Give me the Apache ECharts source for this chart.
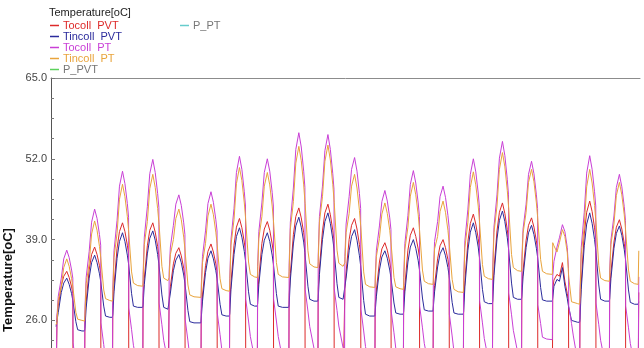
<!DOCTYPE html>
<html>
<head>
<meta charset="utf-8">
<script src="https://cdn.jsdelivr.net/npm/echarts@6/dist/echarts.min.js"></script>
<style>
  html, body { margin: 0; padding: 0; background: #fff; overflow: hidden; }
  #chart { width: 644px; height: 520px; }
</style>
</head>
<body>
<div id="chart"></div>
<script>
// sample times in hours from the start of the record, one row per day
var hours = [
  [4.2, 5, 6, 8.5, 10.5, 13, 15, 17, 18, 18.2, 20.5, 22, 25.5],
  [27.7, 28, 29, 31.5, 33.5, 36, 38, 40, 41, 41.2, 43.5, 45, 48.5],
  [50.7, 51, 52, 54.5, 56.5, 59, 61, 63, 64, 64.2, 66.5, 68, 71.5],
  [75.7, 76, 77, 79.5, 81.5, 84, 86, 88, 89, 89.2, 91.5, 93, 96.5],
  [97.2, 97.5, 98.5, 101, 103, 105.5, 107.5, 109.5, 110.5, 110.7, 113, 114.5, 118],
  [123.7, 124, 125, 127.5, 129.5, 132, 134, 136, 137, 137.2, 139.5, 141, 144.5],
  [147.2, 147.5, 148.5, 151, 153, 155.5, 157.5, 159.5, 160.5, 160.7, 163, 164.5, 168],
  [170.2, 170.5, 171.5, 174, 176, 178.5, 180.5, 182.5, 183.5, 183.7, 186, 187.5, 191],
  [196.2, 196.5, 197.5, 200, 202, 204.5, 206.5, 208.5, 209.5, 209.7, 212, 213.5, 217],
  [220.2, 220.5, 221.5, 224, 226, 228.5, 230.5, 232.5, 233.5, 233.7, 236, 237.5, 241],
  [242.2, 242.5, 243.5, 246, 248, 250.5, 252.5, 254.5, 255.5, 255.7, 258, 259.5, 263],
  [267.2, 267.5, 268.5, 271, 273, 275.5, 277.5, 279.5, 280.5, 280.7, 283, 284.5, 288],
  [290.7, 291, 292, 294.5, 296.5, 299, 301, 303, 304, 304.2, 306.5, 308, 311.5],
  [315.2, 315.5, 316.5, 319, 321, 323.5, 325.5, 327.5, 328.5, 328.7, 331, 332.5, 336],
  [340.2, 340.5, 341.5, 344, 346, 348.5, 350.5, 352.5, 353.5, 353.7, 356, 357.5, 361],
  [364.2, 364.5, 365.5, 368, 370, 372.5, 374.5, 376.5, 377.5, 377.7, 380, 381.5, 385],
  [388.2, 388.5, 389.5, 392, 394, 396.5, 398.5, 400.5, 401.5, 401.7, 404, 405.5, 409],
  [413.7, 414, 415, 417.5, 419.5, 422, 424, 426, 427, 427.2, 429.5, 431, 434.5],
  [436.2, 436.5, 437.5, 440, 442, 444.5, 446.5, 448.5, 449.5, 449.7, 452, 453.5, 457],
  [460.7, 461, 462, 464.5, 466.5, 469, 471, 473, 474, 474.2, 476.5, 478, 481.5],
  [484.5, 485]
];

var tocollPvt = [
  [15, 26.7, 28.3, 31.6, 33.1, 33.9, 32.9, 31.4, 30.3, 15, 15, 15, 15],
  [15, 26.2, 29.0, 34.1, 36.6, 37.8, 36.6, 34.8, 33.6, 15, 15, 15, 15],
  [15, 28.4, 31.6, 37.6, 40.3, 41.7, 40.3, 38.1, 36.7, 15, 15, 15, 15],
  [15, 30.0, 32.8, 38.0, 40.5, 41.7, 40.2, 37.9, 36.4, 15, 15, 15, 15],
  [15, 29.6, 31.4, 35.1, 36.8, 37.7, 36.4, 34.4, 33.1, 15, 15, 15, 15],
  [15, 27.4, 30.1, 34.8, 37.1, 38.3, 37.0, 35.1, 33.9, 15, 15, 15, 15],
  [15, 28.6, 32.0, 38.1, 41.0, 42.4, 40.9, 38.6, 37.1, 15, 15, 15, 15],
  [15, 30.2, 32.8, 38.4, 40.7, 41.9, 40.5, 38.3, 36.9, 15, 15, 15, 15],
  [15, 30.0, 33.5, 39.8, 42.7, 44.1, 42.5, 40.1, 38.4, 15, 15, 15, 15],
  [15, 31.0, 34.4, 40.4, 43.3, 44.7, 43.0, 40.5, 38.9, 15, 15, 15, 15],
  [15, 31.2, 33.8, 39.0, 41.3, 42.4, 40.7, 38.2, 36.6, 15, 15, 15, 15],
  [15, 28.5, 30.9, 35.4, 37.5, 38.5, 37.3, 35.4, 34.2, 15, 15, 15, 15],
  [15, 28.9, 31.6, 37.3, 39.7, 40.9, 39.5, 37.5, 36.1, 15, 15, 15, 15],
  [15, 29.3, 31.6, 35.9, 38.0, 39.0, 37.7, 35.8, 34.5, 15, 15, 15, 15],
  [15, 28.9, 32.4, 38.7, 41.6, 43.1, 41.5, 39.2, 37.6, 15, 15, 15, 15],
  [15, 30.6, 34.2, 40.4, 43.4, 44.9, 43.2, 40.6, 38.9, 15, 15, 15, 15],
  [15, 31.3, 34.0, 38.9, 41.3, 42.5, 41.0, 38.8, 37.4, 15, 15, 15, 15],
  [15, 31.1, 32.5, 33.4, 33.1, 35.3, 32.3, 30.3, 29.1, 15, 15, 15, 15],
  [15, 27.7, 32.0, 39.9, 43.4, 45.2, 43.5, 40.9, 39.2, 15, 15, 15, 15],
  [15, 31.0, 33.7, 38.6, 41.0, 42.2, 40.7, 38.4, 36.9, 15, 15, 15, 15],
  [15, 30.5]
];

var tincollPvt = [
  [25.0, 25.2, 27.3, 30.5, 32.0, 32.8, 31.8, 30.3, 29.2, 29.1, 25.8, 24.5, 24.3],
  [24.3, 24.7, 28.0, 32.8, 35.3, 36.5, 35.3, 33.5, 32.3, 32.1, 28.3, 26.7, 26.5],
  [26.5, 26.9, 30.6, 36.0, 38.7, 40.1, 38.7, 36.5, 35.1, 34.8, 30.3, 28.3, 28.1],
  [28.1, 28.5, 31.8, 36.7, 39.2, 40.4, 38.9, 36.6, 35.1, 34.9, 30.1, 28.1, 27.8],
  [27.8, 28.1, 30.4, 34.0, 35.7, 36.6, 35.3, 33.3, 32.0, 31.8, 27.6, 25.8, 25.6],
  [25.6, 25.9, 29.1, 33.7, 36.0, 37.2, 35.9, 34.0, 32.8, 32.6, 28.6, 26.9, 26.7],
  [26.7, 27.1, 31.0, 36.6, 39.5, 40.9, 39.4, 37.1, 35.6, 35.4, 30.6, 28.6, 28.3],
  [28.3, 28.7, 31.8, 36.6, 38.9, 40.1, 38.7, 36.5, 35.1, 34.8, 30.3, 28.3, 28.1],
  [28.1, 28.5, 32.5, 38.3, 41.2, 42.6, 41.0, 38.6, 36.9, 36.7, 31.5, 29.4, 29.1],
  [29.1, 29.5, 33.4, 39.0, 41.9, 43.3, 41.6, 39.1, 37.5, 37.2, 31.9, 29.7, 29.4],
  [29.4, 29.7, 32.8, 37.2, 39.5, 40.6, 38.9, 36.4, 34.8, 34.5, 29.2, 27.0, 26.7],
  [26.7, 27.0, 29.9, 34.1, 36.2, 37.2, 36.0, 34.1, 32.9, 32.7, 28.8, 27.2, 27.0],
  [27.0, 27.4, 30.6, 35.4, 37.8, 39.0, 37.6, 35.6, 34.2, 33.9, 29.6, 27.7, 27.5],
  [27.5, 27.8, 30.6, 34.6, 36.7, 37.7, 36.4, 34.5, 33.2, 33.0, 28.9, 27.2, 27.0],
  [27.0, 27.4, 31.4, 37.3, 40.2, 41.7, 40.1, 37.8, 36.2, 36.0, 31.0, 29.0, 28.7],
  [28.7, 29.1, 33.2, 39.1, 42.1, 43.6, 41.9, 39.3, 37.6, 37.4, 32.0, 29.7, 29.4],
  [29.4, 29.8, 33.0, 37.7, 40.1, 41.3, 39.8, 37.6, 36.2, 35.9, 31.3, 29.3, 29.1],
  [29.1, 29.6, 31.5, 32.6, 32.3, 34.5, 31.5, 29.5, 28.3, 28.1, 26.0, 25.8, 25.7],
  [25.7, 26.2, 31.0, 38.0, 41.5, 43.3, 41.6, 39.0, 37.3, 37.1, 31.7, 29.4, 29.1],
  [29.1, 29.5, 32.7, 37.6, 40.0, 41.2, 39.7, 37.4, 35.9, 35.7, 30.9, 28.9, 28.6],
  [28.6, 29.0]
];

var tocollPt = [
  [16, 26.8, 29.9, 32.8, 35.9, 37.3, 36.1, 34.1, 32.8, 22.4, 18.9, 16.4, 12.9],
  [16, 27.7, 32.9, 37.1, 41.8, 43.9, 42.4, 39.8, 38.1, 25.6, 22.1, 19.6, 16.1],
  [16, 31.0, 37.2, 42.1, 47.6, 50.0, 48.0, 44.8, 42.6, 28.0, 24.5, 22.0, 18.5],
  [16, 33.4, 39.4, 44.3, 49.6, 51.9, 49.8, 46.4, 44.2, 28.8, 25.3, 22.8, 19.3],
  [16, 33.9, 37.8, 41.3, 44.7, 46.2, 44.5, 41.7, 39.8, 26.2, 22.7, 20.2, 16.7],
  [16, 31.5, 36.3, 40.4, 44.8, 46.7, 45.0, 42.2, 40.4, 27.2, 23.7, 21.2, 17.7],
  [16, 32.7, 39.0, 44.0, 49.8, 52.4, 50.3, 46.7, 44.4, 29.4, 25.9, 23.4, 19.9],
  [16, 34.7, 40.3, 44.9, 49.8, 52.0, 50.0, 46.6, 44.4, 29.4, 25.9, 23.4, 19.9],
  [16, 34.9, 41.8, 47.3, 53.5, 56.2, 53.9, 50.0, 47.4, 31.0, 27.5, 25.0, 21.5],
  [16, 36.5, 42.7, 47.6, 53.3, 55.9, 53.5, 49.6, 47.1, 31.1, 27.6, 25.1, 21.6],
  [16, 36.3, 41.5, 45.9, 50.3, 52.2, 50.0, 46.4, 44.0, 27.8, 24.3, 21.8, 18.3],
  [16, 33.0, 37.3, 41.2, 45.1, 46.9, 45.2, 42.5, 40.6, 27.5, 24.0, 21.5, 18.0],
  [16, 32.9, 38.4, 42.9, 47.9, 50.1, 48.1, 44.9, 42.7, 28.3, 24.8, 22.3, 18.8],
  [16, 33.5, 38.7, 41.9, 45.9, 47.6, 45.8, 42.9, 41.0, 27.0, 23.5, 21.0, 17.5],
  [16, 32.5, 38.8, 43.9, 49.5, 52.0, 49.9, 46.5, 44.2, 29.1, 25.6, 23.1, 19.6],
  [16, 34.6, 41.0, 46.2, 52.1, 54.8, 52.5, 48.7, 46.2, 30.4, 26.9, 24.4, 20.9],
  [16, 35.7, 40.7, 44.7, 49.5, 51.6, 49.6, 46.2, 44.0, 28.5, 25.5, 23.3, 23.0],
  [22.9, 33.1, 35.5, 37.8, 39.3, 41.4, 40.3, 37.7, 34.3, 28.3, 25.5, 23.5, 19.5],
  [16, 30.7, 37.7, 43.4, 49.7, 52.5, 50.3, 46.7, 44.4, 28.8, 25.3, 22.8, 19.3],
  [16, 34.1, 38.9, 42.8, 47.4, 49.5, 47.5, 44.3, 42.1, 28.3, 24.8, 22.3, 18.8],
  [17, 33]
];

var tincollPt = [
  [25.3, 25.8, 29.2, 31.4, 34.5, 35.9, 34.7, 32.7, 31.4, 31.2, 27.3, 26.2, 26.0],
  [25.9, 26.7, 31.9, 35.2, 39.9, 42.0, 40.5, 37.9, 36.2, 35.9, 30.9, 29.5, 29.2],
  [29.1, 30.0, 36.1, 40.0, 45.5, 47.9, 45.9, 42.7, 40.5, 40.2, 33.8, 32.0, 31.6],
  [31.5, 32.4, 38.2, 41.9, 47.2, 49.5, 47.4, 44.0, 41.8, 41.4, 34.7, 32.8, 32.4],
  [32.3, 32.9, 36.6, 39.0, 42.4, 43.9, 42.2, 39.4, 37.5, 37.2, 31.7, 30.1, 29.8],
  [29.7, 30.5, 35.3, 38.4, 42.8, 44.7, 43.0, 40.2, 38.4, 38.1, 32.7, 31.1, 30.8],
  [30.7, 31.7, 38.1, 42.2, 48.0, 50.6, 48.5, 44.9, 42.6, 42.3, 35.4, 33.4, 33.0],
  [32.9, 33.7, 39.2, 42.7, 47.6, 49.8, 47.8, 44.4, 42.2, 41.9, 35.3, 33.4, 33.0],
  [32.9, 33.9, 40.7, 45.1, 51.3, 54.0, 51.7, 47.8, 45.2, 44.8, 37.2, 35.1, 34.6],
  [34.5, 35.5, 41.8, 45.9, 51.6, 54.2, 51.8, 47.9, 45.4, 45.0, 37.3, 35.2, 34.7],
  [34.6, 35.3, 40.1, 43.2, 47.6, 49.5, 47.3, 43.7, 41.3, 40.9, 33.8, 31.8, 31.4],
  [31.3, 32.0, 36.3, 39.2, 43.1, 44.9, 43.2, 40.5, 38.6, 38.4, 32.9, 31.4, 31.1],
  [31.0, 31.9, 37.4, 41.0, 46.0, 48.2, 46.2, 43.0, 40.8, 40.5, 34.1, 32.3, 31.9],
  [31.8, 32.5, 37.5, 39.5, 43.5, 45.2, 43.4, 40.5, 38.6, 38.3, 32.6, 31.0, 30.6],
  [30.5, 31.5, 37.7, 41.8, 47.4, 49.9, 47.8, 44.4, 42.1, 41.8, 35.0, 33.1, 32.7],
  [32.6, 33.6, 40.1, 44.4, 50.3, 53.0, 50.7, 46.9, 44.4, 44.0, 36.6, 34.5, 34.0],
  [33.9, 34.7, 40.0, 43.4, 48.2, 50.3, 48.3, 44.9, 42.7, 42.4, 35.8, 33.9, 33.5],
  [33.4, 38.5, 38.0, 37.0, 38.5, 40.6, 39.5, 36.9, 33.5, 33.0, 29.0, 28.8, 28.7],
  [28.6, 29.7, 36.6, 41.2, 47.5, 50.3, 48.1, 44.5, 42.2, 41.8, 34.8, 32.8, 32.4],
  [32.3, 33.1, 38.2, 41.5, 46.1, 48.2, 46.2, 43.0, 40.8, 40.5, 34.1, 32.3, 31.9],
  [31.8, 37.2]
];

// power series: nothing of them shows inside this temperature window
var pPvt = [];
var pPt = [];

var seriesNames = ['Tocoll  PVT', 'Tincoll  PVT', 'Tocoll  PT', 'Tincoll  PT', 'P_PVT', 'P_PT'];
var seriesColors = ['#dd2a2a', '#2b2b9c', '#c93fd6', '#e9a43c', '#5cd25c', '#66cccc'];
var legendTextColors = ['#dd2a2a', '#2b2b9c', '#c93fd6', '#e9a43c', '#777777', '#777777'];
var yTicks = [0, 13, 26, 39, 52, 65];

function pairs(rows) {
  var out = []
  rows.forEach(function (row, d) {
    row.forEach(function (v, i) {
      out.push([hours[d][i], v])
    })
  })
  return out
}

var seriesData = [pairs(tocollPvt), pairs(tincollPvt), pairs(tocollPt), pairs(tincollPt), pPvt, pPt];

var chart = echarts.init(document.getElementById('chart'), null, { renderer: 'canvas' })

chart.setOption({
  animation: false,
  backgroundColor: '#ffffff',
  textStyle: { fontFamily: 'Liberation Sans, Arial, sans-serif' },
  title: {
    text: 'Temperature[oC]',
    left: 49,
    top: 7,
    padding: 0,
    textStyle: { fontSize: 11, fontWeight: 'normal', color: '#222222' }
  },
  legend: [
    {
      orient: 'vertical',
      left: 50,
      top: 20,
      padding: 0,
      itemGap: 0,
      itemWidth: 9,
      itemHeight: 1.5,
      icon: 'rect',
      selectedMode: false,
      data: seriesNames.slice(0, 5).map(function (n, i) {
        return { name: n, textStyle: { color: legendTextColors[i] } }
      }),
      textStyle: { fontSize: 11, lineHeight: 10.7, padding: [0, 0, 0, -1] }
    },
    {
      orient: 'vertical',
      left: 180,
      top: 20,
      padding: 0,
      itemWidth: 9,
      itemHeight: 1.5,
      icon: 'rect',
      selectedMode: false,
      data: [{ name: 'P_PT', textStyle: { color: legendTextColors[5] } }],
      textStyle: { fontSize: 11, lineHeight: 10.7, padding: [0, 0, 0, -1] }
    }
  ],
  grid: {
    left: 51,
    right: 4,
    top: 78,
    height: 404,
    containLabel: false,
    outerBoundsMode: 'none'
  },
  xAxis: {
    type: 'value',
    position: 'top',
    min: 0,
    max: 486,
    axisLine: { show: true, onZero: false, lineStyle: { color: '#8c8c8c', width: 1 } },
    axisTick: { show: false },
    axisLabel: { show: false },
    splitLine: { show: false }
  },
  yAxis: {
    type: 'value',
    min: yTicks[0],
    max: yTicks[yTicks.length - 1],
    interval: 13,
    name: 'Temperature[oC]',
    nameLocation: 'middle',
    nameRotate: 90,
    nameGap: 33,
    nameTextStyle: { fontSize: 13, fontWeight: 'bold', color: '#111111' },
    axisLine: { show: true, lineStyle: { color: '#555555', width: 1 } },
    axisTick: { show: true, inside: true, length: 4, lineStyle: { color: '#777777' } },
    minorTick: { show: true, splitNumber: 4, length: 3, lineStyle: { color: '#777777' } },
    axisLabel: {
      fontSize: 11,
      color: '#444444',
      margin: 4,
      formatter: function (v) { return v.toFixed(1) }
    },
    splitLine: { show: false }
  },
  series: seriesNames.map(function (name, i) {
    return {
      name: name,
      type: 'line',
      data: seriesData[i],
      showSymbol: false,
      symbol: 'none',
      clip: true,
      color: seriesColors[i],
      lineStyle: { width: 1, color: seriesColors[i] },
      z: i === 3 ? 4 : 2
    }
  })
})
</script>
</body>
</html>
